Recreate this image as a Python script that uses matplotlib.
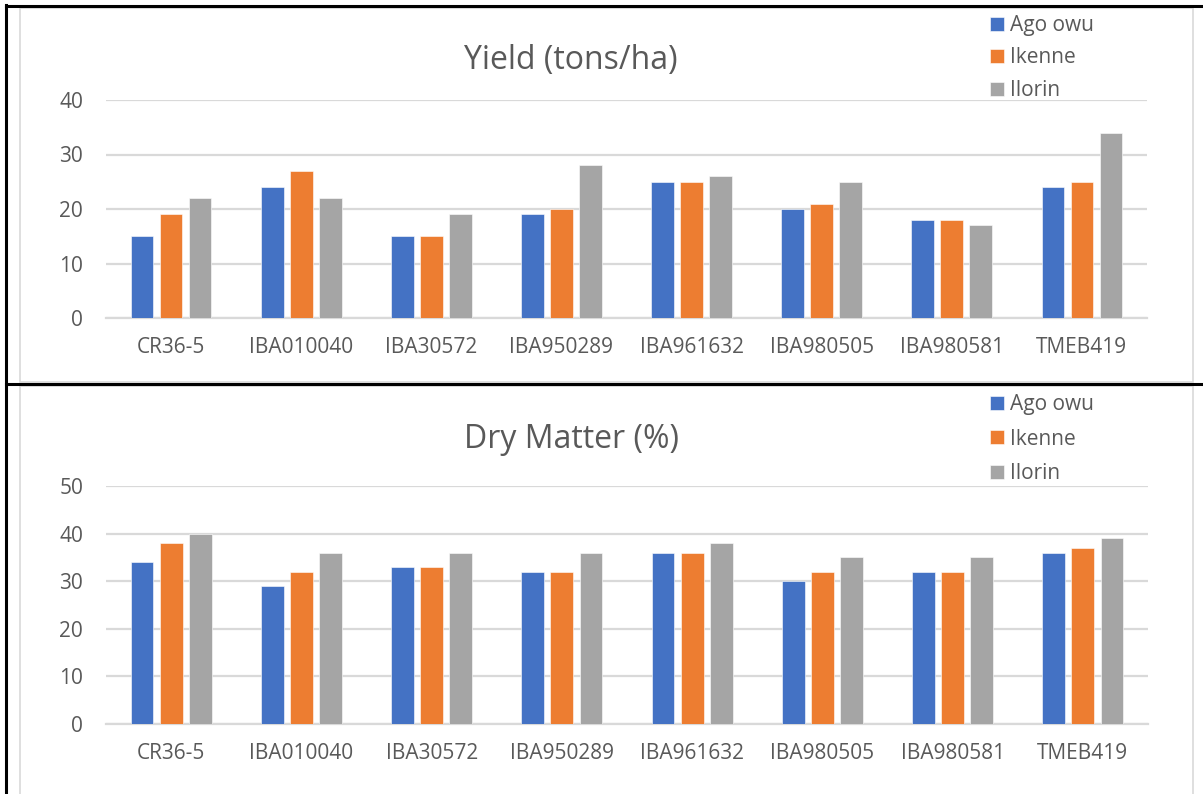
import matplotlib
matplotlib.use("Agg")
import matplotlib.pyplot as plt
import numpy as np

plt.rcParams['font.family'] = ['Open Sans', 'DejaVu Sans']

varieties = ["CR36-5", "IBA010040", "IBA30572", "IBA950289",
             "IBA961632", "IBA980505", "IBA980581", "TMEB419"]
locations = ["Ago owu", "Ikenne", "Ilorin"]
colors = ["#4472C4", "#ED7D31", "#A5A5A5"]

yield_ago_owu = [15, 24, 15, 19, 25, 20, 18, 24]
yield_ikenne = [19, 27, 15, 20, 25, 21, 18, 25]
yield_ilorin = [22, 22, 19, 28, 26, 25, 17, 34]

dm_ago_owu = [34, 29, 33, 32, 36, 30, 32, 36]
dm_ikenne = [38, 32, 33, 32, 36, 32, 32, 37]
dm_ilorin = [40, 36, 36, 36, 38, 35, 35, 39]

yield_ticks = [0, 10, 20, 30, 40]
dm_ticks = [0, 10, 20, 30, 40, 50]

TEXT = "#595959"
GRID = "#D9D9D9"

W, H = 1203, 794
fig = plt.figure(figsize=(W / 100, H / 100), dpi=100)


def px_axes(x0, y_top, x1, y_bot):
    return fig.add_axes([x0 / W, 1 - y_bot / H, (x1 - x0) / W, (y_bot - y_top) / H])


def draw_panel(ax, series, ticks, title, title_y, legend_y, spacing):
    x = np.arange(len(varieties))
    offsets = [-0.223, 0.0, 0.223]
    handles = []
    for vals, off, col, name in zip(series, offsets, colors, locations):
        h = ax.bar(x + off, vals, width=0.175, color=col, label=name,
                   edgecolor="white", linewidth=0.4, zorder=3)
        handles.append(h)
    ax.set_xlim(-0.5, len(varieties) - 0.5)
    ax.set_ylim(ticks[0], ticks[-1])
    ax.set_yticks(ticks)
    ax.set_xticks(x)
    ax.set_xticklabels(varieties)
    ax.yaxis.grid(True, color=GRID, linewidth=1.6, zorder=0)
    ax.set_axisbelow(True)
    for s in ["top", "right", "left"]:
        ax.spines[s].set_visible(False)
    ax.spines["bottom"].set_color(GRID)
    ax.spines["bottom"].set_linewidth(1.6)
    ax.tick_params(axis="both", length=0, colors=TEXT, labelsize=15)
    ax.tick_params(axis="x", pad=14)
    ax.tick_params(axis="y", pad=16.5)
    fig.text(571 / W, 1 - title_y / H, title, ha="center", va="center",
             fontsize=23, color=TEXT)
    leg = fig.legend(handles=handles, labels=locations,
                     loc="upper left", bbox_to_anchor=(990 / W, 1 - legend_y / H),
                     frameon=False, fontsize=15, labelcolor=TEXT,
                     handlelength=0.65, handleheight=0.65, handletextpad=0.3,
                     labelspacing=spacing, borderpad=0, borderaxespad=0)
    return leg


ax1 = px_axes(106, 100, 1147, 318)
draw_panel(ax1, [yield_ago_owu, yield_ikenne, yield_ilorin], yield_ticks,
           "Yield (tons/ha)", 60, 15, 0.55)

ax2 = px_axes(106, 486, 1148, 724)
draw_panel(ax2, [dm_ago_owu, dm_ikenne, dm_ilorin], dm_ticks,
           "Dry Matter (%)", 440, 394, 0.65)

# chart area outlines (light gray)
for y0, y1 in [(8, 382), (386, 800)]:
    fig.add_artist(plt.Rectangle((20 / W, 1 - y1 / H), (1193 - 20) / W, (y1 - y0) / H,
                                 transform=fig.transFigure, fill=False,
                                 edgecolor="#D9D9D9", linewidth=1.2))

# table cell borders (black)
line_kw = dict(transform=fig.transFigure, color="black", linewidth=2.2)
fig.add_artist(plt.Line2D([6 / W, 6 / W], [0, 1 - 5 / H], **line_kw))
fig.add_artist(plt.Line2D([6 / W, 1], [1 - 6 / H, 1 - 6 / H], **line_kw))
fig.add_artist(plt.Line2D([6 / W, 1], [1 - 384 / H, 1 - 384 / H], **line_kw))

fig.savefig("out.png", dpi=100)
